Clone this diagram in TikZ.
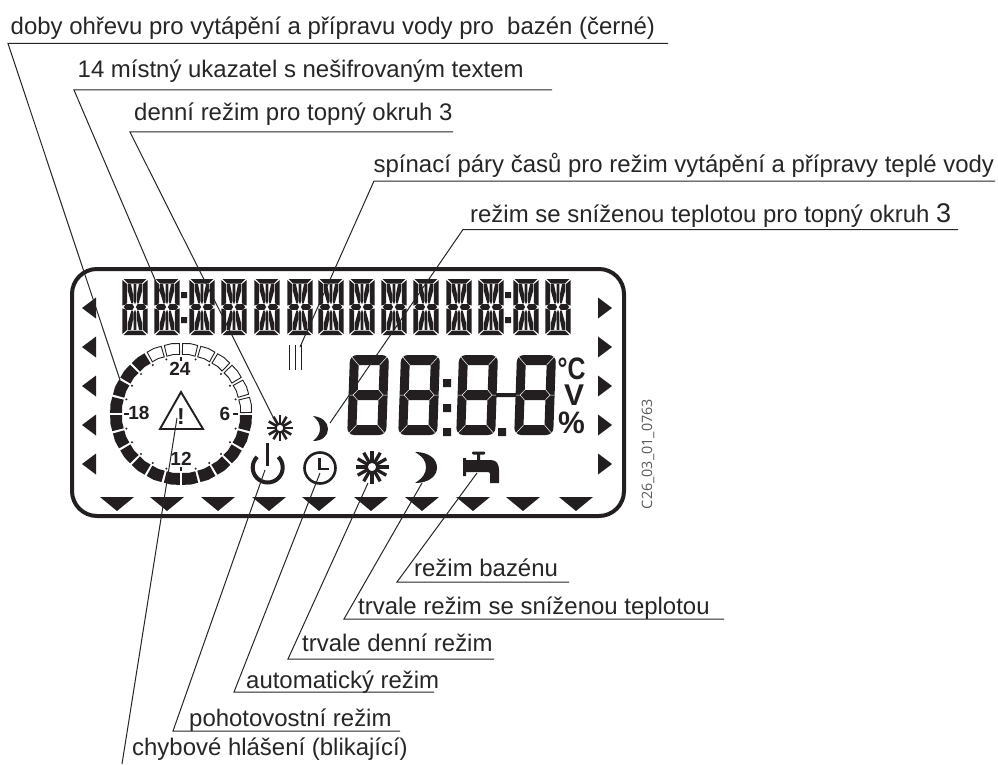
\documentclass[tikz,border=0pt]{standalone}
\usepackage{fontspec}
\setmainfont{Liberation Sans}
\newfontfamily\codefont{Open Sans}
\definecolor{lcd}{HTML}{231F20}
\newcommand{\lcdhalf}{\fill[lcd]
 (1.6,0)--(24.4,0)--(20,4.5)--(6,4.5)--cycle
 (0.3,1)--(5.2,5.2)--(5.2,24)--(2.6,25.9)--(0.3,26.6)--cycle
 (25.7,1)--(20.8,5.2)--(20.8,24)--(23.4,25.9)--(25.7,26.6)--cycle
 (11.6,5.2)--(14.4,5.2)--(14.4,22)--(13,25.2)--(11.6,22)--cycle
 (5.9,5.2)--(9,5.2)--(11,15)--(11,24.4)--(9.3,24.4)--(5.9,12)--cycle
 (20.1,5.2)--(17,5.2)--(15,15)--(15,24.4)--(16.7,24.4)--(20.1,12)--cycle
 (1.6,28)--(4.2,25.2)--(10.4,25.2)--(12.2,28)--cycle
 (24.4,28)--(21.8,25.2)--(15.6,25.2)--(13.8,28)--cycle;}
\newcommand{\lcdchar}[1]{\begin{scope}[shift={(#1,279)}]\lcdhalf\end{scope}
 \begin{scope}[shift={(#1,335)},yscale=-1]\lcdhalf\end{scope}}
\newcommand{\bigdigit}[1]{\begin{scope}[shift={(#1,355)},xslant=0.035]
 \fill[lcd,even odd rule,rounded corners=7] (0,0) rectangle (39,80) [sharp corners] (9,10) rectangle (30,35) (9,45) rectangle (30,70);
 \draw[white,line width=.5] (1.5,1.5)--(9,10) (37.5,1.5)--(30,10) (1.5,78.5)--(9,70) (37.5,78.5)--(30,70)
  (9,35)--(4.5,40)--(9,45) (0,40)--(4.5,40) (30,35)--(34.5,40)--(30,45) (34.5,40)--(39,40);
 \end{scope}}
\newcommand{\sunicon}[3]{\begin{scope}[shift={(#1,#2)}]
 \foreach \a in {0,30,...,330}{\draw[lcd,line width=.2*#3] (\a:.3*#3)--(\a:#3);}
 \filldraw[fill=white,draw=lcd,line width=.13*#3] (0,0) circle[radius=.32*#3];
 \end{scope}}
\tikzset{
 lab/.style={inner sep=0pt,anchor=base west,text=black!85,font=\fontsize{23.95}{28}\selectfont},
 leader/.style={draw=black!85,line width=1pt},
 ring/.style={fill=lcd},
 ringo/.style={fill=white,draw=lcd,line width=.9pt},
 dialnum/.style={inner sep=0pt,text=lcd,font=\fontsize{19}{20}\bfseries\selectfont},
}
\begin{document}
\begin{tikzpicture}[x=1pt,y=-1pt]
\useasboundingbox (0,0) rectangle (998,765);
\fill[white] (0,0) rectangle (998,765);
% frame
\draw[lcd,line width=4pt,rounded corners=25] (72,269) rectangle (624,516);
% alphanumeric line
\foreach \x in {122,154,189,221,254,287,318,349,381,413,446,478,513,545}{\lcdchar{\x}}
\fill[lcd] (181,292) rectangle (187,298) (181,317) rectangle (187,323) (505,292) rectangle (511,298) (505,317) rectangle (511,323);
% big digits
\foreach \x in {350,401,459,517}{\bigdigit{\x}}
\fill[lcd] (443,379) rectangle (451,387) (443,404) rectangle (451,412) (443,428) rectangle (451,436) (498,428) rectangle (506,436) (496,393) rectangle (516,397);
% units
\node[inner sep=0pt,text=lcd] (degc) at (571.5,369) {\fontsize{31}{31}\bfseries\selectfont\scalebox{.8}[1]{°C}};
\node[inner sep=0pt,text=lcd] (volt) at (574,395.5) {\fontsize{30}{30}\bfseries\selectfont V};
\node[inner sep=0pt,text=lcd] (perc) at (571.5,423) {\fontsize{31}{31}\bfseries\selectfont\scalebox{.97}[1]{\%}};
% side triangles
\foreach \y in {308,347,386,425,464}{
 \fill[lcd] (96,\y-10.5)--(82,\y)--(96,\y+10.5)--cycle;
 \fill[lcd] (598,\y-10.5)--(612,\y)--(598,\y+10.5)--cycle;}
\foreach \x in {117,167,218,269,319,371,422,473,523,576}{
 \fill[lcd] (\x-17,497)--(\x+17,497)--(\x,511)--cycle;}
% dial
\begin{scope}[shift={(181,414)}]
 \foreach \a in {0,15,...,105}{
  \filldraw[ringo] (-\a-1.3:70.5)--(-\a-7.5:71)--(-\a-13.7:70.5)--(-\a-13.7:59.5)--(-\a-7.5:60)--(-\a-1.3:59.5)--cycle;}
 \foreach \a in {120,135,...,345}{
  \fill[ring] (-\a-1:70.8)--(-\a-7.5:71.3)--(-\a-14:70.8)--(-\a-14:59)--(-\a-7.5:59.4)--(-\a-1:59)--cycle;}
 \foreach \a in {15,30,45,60,75,105,120,135,150,165,195,210,225,240,255,285,300,315,330,345}{
  \fill[lcd] (\a:56.5) circle[radius=1.1];}
 \draw[lcd,line width=1.2pt] (0:52)--(0:57) (90:53)--(90:57) (180:52)--(180:57) (270:53)--(270:57);
\end{scope}
\node[dialnum] (h24) at (180,369) {24};
\node[dialnum] (h6) at (225,414) {6};
\node[dialnum] (h12) at (181,459) {12};
\node[dialnum] (h18) at (139,413) {18};
% warning
\draw[lcd,line width=1.9pt,line join=miter] (181,392)--(203,429)--(160,429)--cycle;
\node[inner sep=0pt,text=lcd,anchor=base] (excl) at (181,424.5) {\fontsize{23}{23}\bfseries\selectfont !};
% icons
\draw[lcd,line width=1.9pt] (289.5,345)--(289.5,370) (295.5,345)--(295.5,370) (301.5,345)--(301.5,370);
\sunicon{280}{428}{13}
\sunicon{372}{467}{16.5}
\fill[lcd] (313,416) .. controls (322,417) and (328,422) .. (328,429) .. controls (328,436) and (322,441) .. (313,441) .. controls (318,437) and (320,433) .. (320,429) .. controls (320,424) and (318,420) .. (313,416) -- cycle;
\fill[lcd] (415,452) .. controls (429,452) and (437,459) .. (437,467.5) .. controls (437,476) and (429,483) .. (415,483) .. controls (423,478) and (426,473) .. (426,467.5) .. controls (426,461) and (423,457) .. (415,452) -- cycle;
% power
\draw[lcd,line width=4pt] ([shift={(-45:15)}]267.7,467.5) arc[start angle=-45,end angle=225,radius=15];
\draw[lcd,line width=3.6pt] (267.5,443)--(267.5,466);
% clock
\draw[lcd,line width=2.6pt] (320,468) circle[radius=15.5];
\draw[lcd,line width=2.8pt] (319.5,458)--(319.5,469)--(329,469);
% tap
\fill[lcd,rounded corners=1] (472,451.5) rectangle (485,454.5);
\fill[lcd] (477,454)--(480,454)--(480,460)--(477,460)--cycle (463,458) rectangle (466,476);
\fill[lcd] (466,460)--(491,460) .. controls (497,460) and (499,465) .. (499,470) -- (499,483) -- (490,483) -- (490,474) .. controls (490,472.5) and (489,472) .. (487,472) -- (466,472)--cycle;
% code
\node[inner sep=0pt,rotate=90,text=black!65] (code) at (648,454) {\codefont\fontsize{14.3}{16}\selectfont C26\_03\_01\_0763};
% labels
\node[lab] (l1) at (10.5,35) {doby ohřevu pro vytápění a přípravu vody pro\ \ bazén (černé)};
\node[lab] (l2) at (77.5,78) {14 místný ukazatel s nešifrovaným textem};
\node[lab] (l3) at (134,121) {denní režim pro topný okruh 3};
\node[lab] (l4) at (373.5,172) {spínací páry časů pro režim vytápění a přípravy teplé vody};
\node[lab] (l5) at (470,222) {režim se sníženou teplotou pro topný okruh {\fontsize{27}{28}\selectfont 3}};
\node[lab] (l6) at (414,576.5) {režim bazénu};
\node[lab] (l7) at (358,614) {trvale režim se sníženou teplotou};
\node[lab] (l8) at (302,651) {trvale denní režim};
\node[lab] (l9) at (246,688) {automatický režim};
\node[lab] (l10) at (189,726) {pohotovostní režim};
\node[lab] (l11) at (132,755) {chybové hlášení (blikající)};
% leader coordinates
\coordinate (a1) at (8,43.5); \coordinate (b1) at (668,43.5); \coordinate (c1) at (120,380);
\coordinate (a2) at (74,90); \coordinate (b2) at (552,90); \coordinate (c2) at (165,303);
\coordinate (a3) at (130,132); \coordinate (b3) at (453,132); \coordinate (c3) at (273,417);
\coordinate (a4) at (374,181); \coordinate (b4) at (995,181); \coordinate (c4) at (300,347);
\coordinate (a5) at (463,229.5); \coordinate (b5) at (958,229.5); \coordinate (c5) at (330,423);
\coordinate (a6) at (397,582); \coordinate (b6) at (569,582); \coordinate (c6) at (477,473);
\coordinate (a7) at (344,619); \coordinate (b7) at (724,619); \coordinate (c7) at (422,483);
\coordinate (a8) at (288,659); \coordinate (b8) at (494,659); \coordinate (c8) at (368,483);
\coordinate (a9) at (234,692); \coordinate (b9) at (434,692); \coordinate (c9) at (320,473);
\coordinate (a10) at (173,731); \coordinate (b10) at (400,731); \coordinate (c10) at (265,470);
\coordinate (a11) at (122,764); \coordinate (c11) at (177,418);
\foreach \i in {1,...,10}{\draw[leader] (c\i)--(a\i)--(b\i);}
\draw[leader] (c11)--(a11);
\end{tikzpicture}
\end{document}
